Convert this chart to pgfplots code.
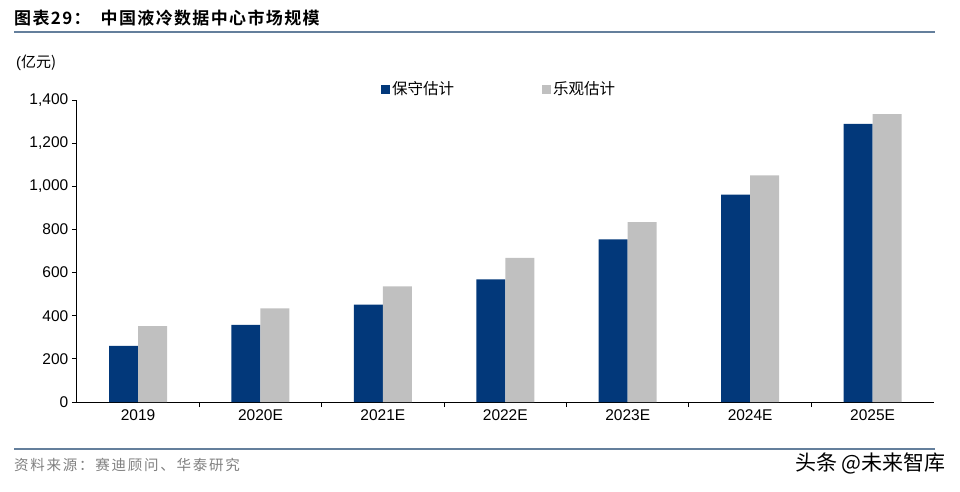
\documentclass[border=0pt]{standalone}
\usepackage{pgfplots}
\pgfplotsset{compat=1.18}
\usepackage{fontspec}
\setmainfont{Liberation Sans}
\newfontfamily\cjk{Noto Sans CJK SC}
\newfontfamily\cjkb[LetterSpace=8]{Noto Sans CJK SC Bold}
\newfontfamily\cjksrc[LetterSpace=12]{Noto Sans CJK SC}
\definecolor{navy}{HTML}{02387A}
\definecolor{lgray}{HTML}{C0C0C0}
\definecolor{rulec}{HTML}{647F9C}
\definecolor{srcgray}{HTML}{808080}
\pgfplotstableread{
x cons opt
0 260 352
1 357 434
2 451 536
3 569 668
4 754 834
5 961 1051
6 1289 1335
}\datatable
\begin{document}
\begin{tikzpicture}[x=1pt,y=1pt]
\path[use as bounding box] (0,0) rectangle (960,491);
% title
\node[anchor=west,inner sep=0pt] at (14,473) {\fontsize{17}{20}\selectfont\cjkb 图表29：\hspace{10pt}中国液冷数据中心市场规模};
\draw[rulec,line width=2pt] (14,459) -- (935,459);
\node[anchor=west,inner sep=0pt] at (16,428) {\fontsize{15}{18}\selectfont(\cjk 亿元\/)};
% footer
\draw[rulec,line width=2pt] (14,42) -- (935,42);
\node[anchor=west,inner sep=0pt,text=srcgray] at (14,26) {\fontsize{14.5}{17}\selectfont\cjksrc 资料来源：赛迪顾问、华泰研究};
\node[anchor=east,inner sep=0pt] at (946,28) {\fontsize{21}{24}\selectfont\cjk 头条 @未来智库};
\begin{axis}[
  at={(76.8pt,89pt)}, anchor=south west,
  scale only axis, width=857pt, height=302pt,
  xmin=-0.5, xmax=6.5, ymin=0, ymax=1400,
  axis x line*=bottom, axis y line*=left,
  axis line style={-, black, line width=0.9pt},
  tick align=outside, major tick length=5pt,
  tick style={black, line width=0.9pt},
  ytick={0,200,...,1400},
  yticklabel style={/pgf/number format/.cd,1000 sep={,},assume math mode=true},
  xtick={0.5,1.5,...,5.5}, xticklabels={},
  extra x ticks={0,...,6},
  extra x tick labels={2019,2020E,2021E,2022E,2023E,2024E,2025E},
  extra x tick style={major tick length=0pt},
  xticklabel style={yshift=-4pt},
  ticklabel style={font=\fontsize{15.5}{18}\selectfont},
  ybar=0pt, bar width=0.237,
  legend columns=2,
  legend style={at={(axis description cs:0.355,1.036)}, anchor=west, draw=none, fill=none,
    font=\fontsize{15.5}{18}\selectfont\cjk, inner sep=0pt,
    /tikz/every even column/.append style={column sep=86pt}},
  legend image code/.code={\fill[#1,draw=none] (0pt,-4.5pt) rectangle (9pt,4.5pt);},
]
\addplot[fill=navy,draw=none] table[x=x,y=cons]{\datatable};
\addlegendentry{保守估计}
\addplot[fill=lgray,draw=none] table[x=x,y=opt]{\datatable};
\addlegendentry{乐观估计}
\end{axis}
\end{tikzpicture}
\end{document}
